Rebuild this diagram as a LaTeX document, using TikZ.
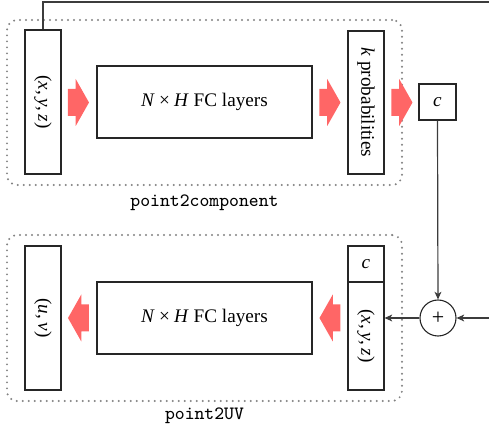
\documentclass[tikz,border=0pt]{standalone}
\usepackage{fontspec}
\setmainfont{Liberation Serif}
\usetikzlibrary{arrows.meta}
\definecolor{arrowred}{RGB}{255,102,102}
\definecolor{linegray}{RGB}{60,60,60}
\definecolor{dotgray}{RGB}{130,130,130}
\begin{document}
\begin{tikzpicture}[x=0.5pt,y=-0.5pt,
  every node/.style={font=\fontsize{9.6}{11.5}\selectfont},
  box/.style={draw=black!85, line width=0.55pt, inner sep=0pt, rectangle},
  group/.style={draw=dotgray, line width=1.1pt, line cap=round, dash pattern=on 0pt off 3pt, rounded corners=5pt, inner sep=0pt, rectangle},
  conn/.style={draw=linegray, line width=0.6pt},
  tip/.style={-{Stealth[length=3.8pt,width=3.4pt,inset=1pt]}},
  lbl/.style={font=\fontsize{9.4}{11}\selectfont\ttfamily},
  redright/.pic={\fill[arrowred] (-10.5,-13.5) -- (-2.8,-13.5) -- (-2.8,-23.5) -- (10.5,0) -- (-2.8,23.5) -- (-2.8,13.5) -- (-10.5,13.5) -- cycle;},
  redleft/.pic={\fill[arrowred] (10.5,-13.5) -- (2.8,-13.5) -- (2.8,-23.5) -- (-10.5,0) -- (2.8,23.5) -- (2.8,13.5) -- (10.5,13.5) -- cycle;},
]
\useasboundingbox (0,0) rectangle (489,428);

% ---- top group: point2component ----
\node[group, minimum width=197.5pt, minimum height=82.5pt] (g1) at (204.5,102.5) {};
\node[lbl] (l1) at (204.5,203) {point2component};

\node[box, minimum width=18pt, minimum height=72pt] (xyz1) at (43,102) {};
\node[rotate=-90] (xyz1t) at (xyz1) {(\textit{x},\,\textit{y},\,\textit{z})};
\pic (a1) at (78.5,102.5) {redright};
\node[box, minimum width=107.5pt, minimum height=36pt] (fc1) at (204.5,102) {\textit{N}\:×\:\textit{H} FC layers};
\pic (a2) at (330,102.5) {redright};
\node[box, minimum width=18pt, minimum height=71.5pt] (kp) at (366,102.5) {};
\node[rotate=-90] (kpt) at (kp) {\textit{k} probabilities};
\pic (a3) at (402,102.5) {redright};
\node[box, minimum width=18.5pt, minimum height=18pt] (cbox) at (437.5,102) {\textit{c}};

% ---- bottom group: point2UV ----
\node[group, minimum width=197.5pt, minimum height=83pt] (g2) at (204.5,318) {};
\node[lbl] (l2) at (204.5,416) {point2UV};

\node[box, minimum width=18pt, minimum height=72pt] (uv) at (43,318) {};
\node[rotate=-90] (uvt) at (uv) {(\textit{u},\,\textit{v})};
\pic (a4) at (78.5,318) {redleft};
\node[box, minimum width=107.5pt, minimum height=36pt] (fc2) at (204.5,318) {\textit{N}\:×\:\textit{H} FC layers};
\pic (a5) at (330,318) {redleft};
\node[box, minimum width=18pt, minimum height=18pt] (c2) at (366,264) {\textit{c}};
\node[box, minimum width=18pt, minimum height=54pt] (xyz2) at (366,336) {};
\node[rotate=-90] (xyz2t) at (xyz2) {(\textit{x},\,\textit{y},\,\textit{z})};
\node[draw=black!85, line width=0.55pt, circle, minimum size=18pt, inner sep=0pt, font=\fontsize{11}{12}\selectfont] (plus) at (438,318) {+};

% ---- connectors ----
\coordinate (topright) at (489,2);
\coordinate (inright) at (489,318);
\draw[conn] (xyz1.north) |- (topright);
\draw[conn,tip] (cbox.south) -- (plus.north);
\draw[conn,tip] (inright) -- (plus.east);
\draw[conn,tip] (plus.west) -- (plus.west -| xyz2.east);
\end{tikzpicture}
\end{document}
